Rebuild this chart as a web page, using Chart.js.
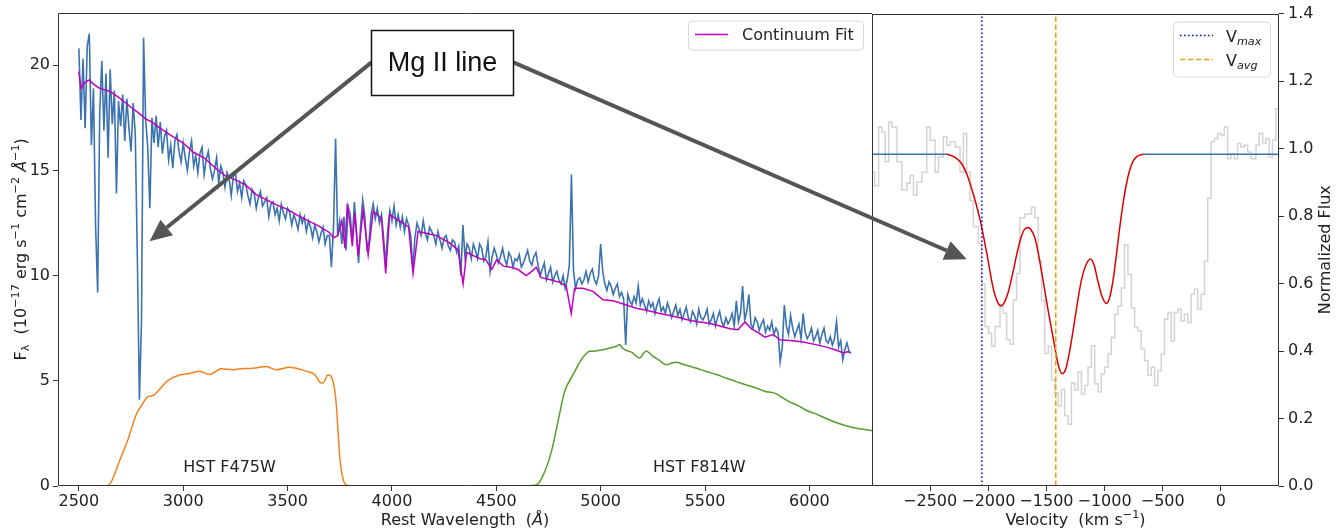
<!DOCTYPE html>
<html>
<head>
<meta charset="utf-8">
<script src="https://cdn.jsdelivr.net/npm/chart.js@4.4.0/dist/chart.umd.min.js"></script>
<style>
  html, body { margin: 0; padding: 0; background: #fff; }
  #wrap { position: relative; width: 1340px; height: 529px; }
  #cSpec { position: absolute; left: 0; top: 0; }
  #cVel { position: absolute; left: 872px; top: 0; }
  #cOver { position: absolute; left: 0; top: 0; pointer-events: none; }
</style>
</head>
<body>
<div id="wrap">
  <canvas id="cSpec" width="872" height="529"></canvas>
  <canvas id="cVel" width="468" height="529"></canvas>
  <canvas id="cOver" width="1340" height="529"></canvas>
</div>
<script>
// ---- left panel: spectrum (flux in 1e-17 erg/s/cm2/A), sampled every 10 A from 2500 A
const specStart = 2500;
const specStep = 10;
const specFlux = [
  20.8, 17.4, 20.3, 17.0, 20.9, 21.5, 16.2, 18.9, 12.4, 9.2,
  17.8, 20.2, 16.9, 19.6, 15.6, 19.8, 17.2, 18.8, 13.9, 18.3,
  17.1, 18.6, 16.4, 18.4, 17.0, 15.9, 18.2, 16.8, 11.0, 4.1,
  7.8, 21.3, 17.4, 16.1, 13.2, 17.5, 16.3, 17.6, 16.1, 17.3,
  15.8, 16.6, 16.9, 15.5, 16.2, 15.1, 16.4, 16.7, 15.9, 15.4,
  16.3, 15.6, 15.0, 15.9, 16.4, 15.2, 15.7, 14.9, 15.8, 16.1,
  14.8, 15.5, 15.9, 15.1, 14.6, 15.0, 15.6, 14.4, 15.2, 14.9,
  14.2, 14.9, 14.6, 13.8, 14.7, 14.9, 14.0, 14.4, 13.7, 14.5,
  14.3, 13.8, 13.4, 14.1, 13.9, 13.2, 13.7, 14.0, 13.3, 13.5,
  13.7, 12.8, 13.4, 13.5, 12.9, 13.2, 12.6, 13.4, 13.0, 12.7,
  13.2, 13.0, 12.4, 12.9, 12.6, 12.2, 12.9, 12.5, 12.8, 12.1,
  12.6, 12.3, 11.8, 12.4, 12.1, 11.6, 12.0, 12.3, 11.5, 11.9,
  11.9, 10.4, 12.3, 16.5, 11.9, 12.6, 11.5, 12.8, 11.2, 13.3,
  12.9, 11.6, 13.5, 12.1, 10.6, 12.4, 13.6, 12.8, 11.3, 11.6,
  12.9, 13.4, 12.7, 13.2, 12.5, 12.9, 11.8, 10.5, 12.2, 13.1,
  12.6, 13.3, 12.4, 12.9, 12.3, 12.8, 12.1, 12.7, 12.4, 11.9,
  10.3, 11.8, 12.5, 12.2, 11.9, 12.6, 12.0, 11.7, 12.3, 12.1,
  11.9, 11.5, 12.1, 11.7, 11.3, 11.8, 11.9, 11.4, 11.2, 11.7,
  11.6, 11.1, 11.4, 10.0, 12.4, 10.9, 11.5, 11.3, 10.8, 11.5,
  11.2, 10.8, 11.5, 11.3, 10.7, 10.9, 11.6, 10.2, 10.9, 11.3,
  11.0, 10.6, 10.9, 11.3, 10.8, 10.5, 11.1, 10.9, 10.4, 10.8,
  10.7, 11.0, 10.4, 10.6, 10.9, 11.2, 10.7, 10.5, 10.9, 11.1,
  10.5, 10.0, 10.3, 10.6, 9.8, 10.1, 10.4, 9.7, 10.0, 10.2,
  9.8, 9.6, 10.0, 9.4, 9.8, 10.5, 14.8, 10.2, 9.4, 9.8,
  9.9, 9.6, 9.8, 10.2, 9.7, 10.1, 10.3, 9.8, 9.6, 10.0,
  11.5, 10.2, 9.6, 9.3, 9.7, 9.5, 9.1, 9.4, 9.6, 9.0,
  9.2, 8.9, 6.7, 9.1, 8.8, 8.6, 9.0, 8.7, 9.5, 8.6,
  8.9, 8.6, 8.3, 8.8, 8.5, 8.7, 8.2, 8.6, 8.9, 8.3,
  8.5, 8.2, 8.7, 8.4, 8.0, 8.3, 8.6, 8.1, 8.4, 7.9,
  8.2, 8.5, 8.0, 7.8, 8.3, 8.1, 7.7, 8.4, 8.0, 7.9,
  8.1, 8.4, 7.7, 7.9, 8.2, 7.6, 8.0, 8.3, 7.8, 7.6,
  8.0, 7.7, 7.9, 8.2, 7.6, 8.8, 7.8, 8.2, 9.5, 7.9,
  8.3, 9.1, 7.7, 7.5, 8.0, 7.8, 7.4, 7.7, 7.9, 7.3,
  7.6, 7.4, 7.8, 7.2, 7.5, 7.3, 5.9, 6.6, 8.6, 7.6,
  7.2, 8.1, 7.5, 7.1, 7.4, 7.7, 7.0, 8.2, 7.3, 7.0,
  7.2, 7.5, 6.9, 7.1, 7.4, 6.8, 7.2, 7.5, 6.9, 6.8,
  7.1, 6.7, 7.0, 7.8, 6.6, 6.9, 6.0, 6.5, 6.8, 6.4,
  6.3
];

// continuum fit
const contLambda = [2500, 2510, 2530, 2550, 2570, 2600, 2650, 2700, 2750, 2790, 2820, 2850, 2890, 2950, 3000,
  3050, 3100, 3150, 3200, 3250, 3300, 3350, 3400, 3450, 3500, 3550, 3600, 3650, 3700, 3720, 3740, 3760,
  3775, 3786, 3800, 3810, 3822, 3838, 3862, 3886, 3910, 3930, 3950, 3970, 3989, 4020, 4053, 4080, 4101,
  4125, 4170, 4213, 4250, 4277, 4317, 4341, 4358, 4390, 4422, 4450, 4478, 4502, 4533, 4570, 4603, 4643,
  4670, 4691, 4715, 4760, 4803, 4835, 4859, 4875, 4915, 4963, 5011, 5059, 5123, 5170, 5219, 5283, 5332,
  5380, 5428, 5476, 5524, 5580, 5620, 5658, 5691, 5723, 5760, 5787, 5827, 5859, 5920, 5971, 6030, 6083,
  6130, 6163, 6180, 6195];
const contFlux = [19.7, 18.9, 19.2, 19.3, 19.1, 18.9, 18.75, 18.4, 18.0, 17.7, 17.45, 17.3, 17.0, 16.6, 16.3,
  15.85, 15.6, 15.15, 14.75, 14.55, 14.3, 13.85, 13.6, 13.35, 13.15, 12.85, 12.6, 12.35, 12.05, 11.8, 11.9, 12.6,
  11.3, 13.4, 12.4, 11.4, 13.0, 10.95, 13.1, 11.0, 13.05, 12.9, 12.7, 10.1, 12.9, 12.7, 12.5, 12.3, 10.1,
  12.1, 12.0, 11.9, 11.7, 11.55, 11.2, 9.6, 11.1, 10.95, 10.8, 10.75, 10.3, 10.75, 10.45, 10.4, 10.3, 10.0,
  10.2, 10.4, 9.9, 9.8, 9.68, 9.5, 8.2, 9.4, 9.4, 9.25, 8.85, 8.8, 8.6, 8.45, 8.35, 8.2, 8.1,
  8.0, 7.87, 7.8, 7.72, 7.58, 7.47, 7.43, 7.8, 7.47, 7.25, 7.07, 7.2, 6.95, 6.9, 6.84, 6.72, 6.6,
  6.45, 6.32, 6.38, 6.36];

// filter throughput curves (scaled)
const f475Lambda = [2550, 2628, 2655, 2695, 2735, 2775, 2799, 2831, 2855, 2887, 2919, 2950, 2983, 3030, 3078,
  3126, 3182, 3238, 3290, 3334, 3398, 3446, 3510, 3560, 3590, 3630, 3653, 3670, 3693, 3717, 3733, 3749,
  3765, 3789, 3820, 4000];
const f475Val = [0, 0, 0.2, 1.2, 2.2, 3.4, 3.8, 4.25, 4.3, 4.6, 4.95, 5.15, 5.28, 5.35, 5.45,
  5.3, 5.57, 5.53, 5.58, 5.6, 5.68, 5.53, 5.64, 5.55, 5.45, 5.3, 4.95, 4.9, 5.28, 5.0, 3.9, 1.5,
  0.35, 0.02, 0, 0];
const f814Lambda = [4596, 4692, 4723, 4763, 4795, 4827, 4867, 4907, 4947, 4980, 5011, 5040, 5075, 5091, 5105,
  5123, 5150, 5187, 5205, 5219, 5235, 5251, 5280, 5315, 5340, 5363, 5390, 5411, 5460, 5507, 5555, 5603,
  5650, 5698, 5746, 5794, 5820, 5842, 5870, 5905, 5945, 5985, 6025, 6065, 6105, 6145, 6185, 6225, 6265, 6300];
const f814Val = [0, 0.05, 0.48, 1.6, 3.04, 4.48, 5.28, 6.0, 6.4, 6.42, 6.48, 6.55, 6.64, 6.72, 6.55,
  6.45, 6.35, 6.08, 6.3, 6.42, 6.3, 6.16, 5.98, 5.76, 5.85, 5.88, 5.8, 5.74, 5.6, 5.44, 5.3, 5.12,
  4.96, 4.8, 4.66, 4.48, 4.45, 4.38, 4.2, 4.0, 3.82, 3.6, 3.45, 3.28, 3.1, 2.96, 2.84, 2.75, 2.68, 2.64];

const lamTicks = [2500, 3000, 3500, 4000, 4500, 5000, 5500, 6000];
const fluxTicks = [0, 5, 10, 15, 20];

// ---- right panel: Mg II velocity profile
const grayVel = [-3000, -2977, -2943, -2915, -2886, -2857, -2829, -2786, -2743, -2700, -2672, -2643, -2614,
  -2571, -2529, -2500, -2457, -2428, -2386, -2357, -2328, -2286, -2243, -2214, -2186, -2157, -2128, -2085,
  -2057, -2028, -1999, -1971, -1942, -1899, -1871, -1842, -1814, -1785, -1757, -1728, -1685, -1628, -1599,
  -1571, -1542, -1514, -1485, -1456, -1428, -1399, -1371, -1342, -1313, -1285, -1256, -1228, -1199, -1170,
  -1142, -1113, -1085, -1056, -1028, -999, -970, -942, -913, -885, -856, -828, -799, -770, -742, -713,
  -685, -656, -627, -599, -570, -542, -513, -485, -456, -427, -399, -370, -342, -313, -284, -256, -227,
  -198, -170, -141, -113, -84, -55, -27, 2, 30, 59, 87, 116, 144, 173, 202, 230, 259, 302, 330, 359,
  387, 416, 444, 473, 500];
const grayFlux = [0.93, 0.89, 1.064, 1.049, 0.961, 1.079, 1.064, 0.961, 0.877, 0.897, 0.92, 0.862, 0.90,
  0.93, 1.064, 1.025, 0.93, 0.975, 1.035, 1.01, 1.02, 1.005, 0.93, 1.045, 0.93, 0.846, 0.768, 0.718,
  0.60, 0.473, 0.453, 0.414, 0.473, 0.531, 0.512, 0.434, 0.42, 0.551, 0.63, 0.795, 0.806, 0.826, 0.795,
  0.668, 0.55, 0.393, 0.414, 0.315, 0.276, 0.237, 0.286, 0.208, 0.183, 0.305, 0.284, 0.337, 0.273, 0.298,
  0.352, 0.416, 0.303, 0.279, 0.332, 0.352, 0.391, 0.44, 0.509, 0.533, 0.587, 0.715, 0.627, 0.528, 0.47, 0.46,
  0.406, 0.372, 0.328, 0.352, 0.298, 0.342, 0.391, 0.494, 0.514, 0.43, 0.514, 0.524, 0.489, 0.509, 0.484,
  0.568, 0.583, 0.524, 0.568, 0.666, 0.853, 1.02, 1.03, 1.045, 1.04, 1.064, 0.97, 0.985, 0.97, 1.015,
  1.005, 1.01, 0.99, 0.97, 1.01, 1.045, 1.015, 1.03, 0.975, 1.025, 1.118, 1.118];

const fitVel = [-2355, -2290, -2228, -2180, -2142, -2100, -2071, -2013, -1957, -1920, -1891, -1860, -1828,
  -1790, -1756, -1720, -1690, -1656, -1625, -1599, -1570, -1542, -1485, -1427, -1395, -1365, -1335, -1300,
  -1271, -1235, -1199, -1160, -1121, -1090, -1056, -1020, -984, -955, -927, -900, -870, -840, -812, -785,
  -756, -720, -670];
const fitFlux = [0.983, 0.975, 0.955, 0.92, 0.88, 0.83, 0.79, 0.69, 0.585, 0.545, 0.534, 0.545, 0.575,
  0.63, 0.685, 0.735, 0.76, 0.766, 0.755, 0.735, 0.69, 0.635, 0.52, 0.41, 0.355, 0.333, 0.345, 0.40,
  0.46, 0.54, 0.61, 0.655, 0.673, 0.655, 0.605, 0.56, 0.541, 0.56, 0.61, 0.68, 0.765, 0.84, 0.895, 0.935,
  0.962, 0.977, 0.983];

const contLevel = 0.983;
const flatLeftVel = [-3000, -2355];
const flatRightVel = [-670, 500];
const vMax = -2055;
const vAvg = -1420;

const velTicks = [-2500, -2000, -1500, -1000, -500, 0];
const normTicks = [0, 0.2, 0.4, 0.6, 0.8, 1.0, 1.2, 1.4];

// ---- helpers
const FONT = '"DejaVu Sans", sans-serif';
const AXIS = '#333';
const pairs = (xs, ys) => xs.map((x, i) => ({ x: x, y: ys[i] }));
const minus = v => (v < 0 ? '\u2212' + Math.abs(v) : String(v));

Chart.defaults.font.family = FONT;
Chart.defaults.font.size = 16;
Chart.defaults.color = '#222';
Chart.defaults.animation = false;

const frameSpec = {
  id: 'frameSpec',
  afterDatasetsDraw(chart) {
    const a = chart.chartArea, c = chart.ctx;
    const l = Math.round(a.left) + 0.5, t = Math.round(a.top) + 0.5;
    const b = Math.round(a.bottom) - 0.5, r = Math.round(a.right);
    c.save();
    c.strokeStyle = AXIS;
    c.lineWidth = 1;
    c.beginPath();
    c.moveTo(r, t); c.lineTo(l, t); c.lineTo(l, b); c.lineTo(r, b);
    c.stroke();
    c.restore();
  }
};
const frameVel = {
  id: 'frameVel',
  afterDatasetsDraw(chart) {
    const a = chart.chartArea, c = chart.ctx;
    c.save();
    c.strokeStyle = AXIS;
    c.lineWidth = 1;
    c.strokeRect(Math.round(a.left) + 0.5, Math.round(a.top) + 0.5,
      Math.round(a.right - a.left) - 1, Math.round(a.bottom - a.top) - 1);
    c.restore();
  }
};

function tickGrid() {
  return { drawOnChartArea: false, drawTicks: true, tickLength: 5, color: AXIS, lineWidth: 1 };
}

// ---- left chart
const specPts = specFlux.map((f, i) => ({ x: specStart + i * specStep, y: f }));

const specChart = new Chart(document.getElementById('cSpec'), {
  type: 'line',
  data: {
    datasets: [
      { label: 'Continuum Fit', data: pairs(contLambda, contFlux), borderColor: '#bf00bf', borderWidth: 1.5,
        pointRadius: 0, tension: 0, order: 1 },
      { label: 'spectrum', data: specPts, borderColor: '#3b72b0', borderWidth: 1.6,
        pointRadius: 0, tension: 0, order: 3 },
      { label: 'F475W', data: pairs(f475Lambda, f475Val), borderColor: '#f5821f', borderWidth: 1.5,
        pointRadius: 0, cubicInterpolationMode: 'monotone', order: 2 },
      { label: 'F814W', data: pairs(f814Lambda, f814Val), borderColor: '#559e2e', borderWidth: 1.5,
        pointRadius: 0, cubicInterpolationMode: 'monotone', order: 2 }
    ]
  },
  options: {
    responsive: false,
    devicePixelRatio: 1,
    layout: { padding: { top: 11, right: 0, bottom: 0, left: 0 } },
    plugins: { legend: { display: false }, tooltip: { enabled: false } },
    scales: {
      x: {
        type: 'linear', min: 2400, max: 6300,
        afterBuildTicks: s => { s.ticks = lamTicks.map(v => ({ value: v })); },
        afterFit: s => { s.height = 43; },
        grid: tickGrid(), border: { display: false },
        ticks: { padding: 1, maxRotation: 0, autoSkip: false, callback: v => String(v) }
      },
      y: {
        type: 'linear', min: 0, max: 22.5,
        afterBuildTicks: s => { s.ticks = fluxTicks.map(v => ({ value: v })); },
        afterFit: s => { s.width = 58; },
        grid: tickGrid(), border: { display: false },
        ticks: { padding: 3, callback: v => String(v) }
      }
    }
  },
  plugins: [frameSpec]
});

// ---- right chart
const velChart = new Chart(document.getElementById('cVel'), {
  type: 'line',
  data: {
    datasets: [
      { label: 'Vmax', data: [{ x: vMax, y: 0 }, { x: vMax, y: 1.4 }], borderColor: '#0000ff', borderWidth: 1.5,
        borderDash: [1.5, 2.5], pointRadius: 0, order: 0 },
      { label: 'Vavg', data: [{ x: vAvg, y: 0 }, { x: vAvg, y: 1.4 }], borderColor: '#eba01a', borderWidth: 1.6,
        borderDash: [5.5, 2.5], pointRadius: 0, order: 0 },
      { label: 'fit', data: pairs(fitVel, fitFlux), borderColor: '#dd0000', borderWidth: 1.5,
        pointRadius: 0, cubicInterpolationMode: 'monotone', order: 1 },
      { label: 'contL', data: flatLeftVel.map(v => ({ x: v, y: contLevel })), borderColor: '#3b72b0',
        borderWidth: 1.5, pointRadius: 0, order: 1 },
      { label: 'contR', data: flatRightVel.map(v => ({ x: v, y: contLevel })), borderColor: '#3b72b0',
        borderWidth: 1.5, pointRadius: 0, order: 1 },
      { label: 'data', data: pairs(grayVel, grayFlux), borderColor: '#d3d3d3', borderWidth: 1.5,
        pointRadius: 0, stepped: true, order: 4 }
    ]
  },
  options: {
    responsive: false,
    devicePixelRatio: 1,
    layout: { padding: { top: 11, right: 0, bottom: 0, left: 0 } },
    plugins: { legend: { display: false }, tooltip: { enabled: false } },
    scales: {
      x: {
        type: 'linear', min: -3000, max: 500,
        afterBuildTicks: s => { s.ticks = velTicks.map(v => ({ value: v })); },
        afterFit: s => { s.height = 43; },
        grid: tickGrid(), border: { display: false },
        ticks: { padding: 1, maxRotation: 0, autoSkip: false, callback: v => minus(v) }
      },
      y: {
        type: 'linear', position: 'right', min: 0, max: 1.4,
        afterBuildTicks: s => { s.ticks = normTicks.map(v => ({ value: v })); },
        afterFit: s => { s.width = 61; },
        grid: tickGrid(), border: { display: false },
        ticks: { padding: 4, callback: v => Number(v).toFixed(1) }
      }
    }
  },
  plugins: [frameVel]
});

// ---- overlay: titles with sub/superscripts, legends, Mg II annotation
function partFont(p, size) {
  const small = p.k === 'sup' || p.k === 'sub' || p.k === 'itsub';
  const it = p.k === 'it' || p.k === 'itsub';
  return (it ? 'italic ' : '') + (small ? size * 0.7 : size) + 'px ' + FONT;
}
function drawRich(ctx, parts, x, y, size, align) {
  ctx.save();
  ctx.textBaseline = 'alphabetic';
  ctx.textAlign = 'left';
  ctx.fillStyle = '#222';
  let w = 0;
  parts.forEach(p => { ctx.font = partFont(p, size); w += ctx.measureText(p.t).width; });
  let cx = align === 'center' ? x - w / 2 : x;
  parts.forEach(p => {
    ctx.font = partFont(p, size);
    const dy = p.k === 'sup' ? -size * 0.42 : (p.k === 'sub' || p.k === 'itsub') ? size * 0.24 : 0;
    ctx.fillText(p.t, cx, y + dy);
    cx += ctx.measureText(p.t).width;
  });
  ctx.restore();
}
function roundBox(ctx, x, y, w, h, r) {
  ctx.beginPath();
  ctx.moveTo(x + r, y);
  ctx.arcTo(x + w, y, x + w, y + h, r);
  ctx.arcTo(x + w, y + h, x, y + h, r);
  ctx.arcTo(x, y + h, x, y, r);
  ctx.arcTo(x, y, x + w, y, r);
  ctx.closePath();
  ctx.fillStyle = 'rgba(255,255,255,0.85)';
  ctx.fill();
  ctx.strokeStyle = '#d9d9d9';
  ctx.lineWidth = 1;
  ctx.stroke();
}
function arrow(ctx, x0, y0, x1, y1) {
  const ang = Math.atan2(y1 - y0, x1 - x0), hl = 22, hw = 10;
  const bx = x1 - hl * Math.cos(ang), by = y1 - hl * Math.sin(ang);
  ctx.strokeStyle = '#555';
  ctx.lineWidth = 4;
  ctx.beginPath(); ctx.moveTo(x0, y0); ctx.lineTo(bx, by); ctx.stroke();
  ctx.fillStyle = '#555';
  ctx.beginPath();
  ctx.moveTo(x1, y1);
  ctx.lineTo(bx + hw * Math.sin(ang), by - hw * Math.cos(ang));
  ctx.lineTo(bx - hw * Math.sin(ang), by + hw * Math.cos(ang));
  ctx.closePath();
  ctx.fill();
}

// annotation anchors in data units (wavelength/flux and velocity/normalized flux)
const mgBox = { left: 3902, right: 4582, top: 21.67, bottom: 18.6 };
const mgArrowTipSpec = [2839, 11.63];
const mgArrowTipVel = [-2185, 0.672];
const filterLabels = [['HST F475W', 3222], ['HST F814W', 5473]];

function drawOverlay() {
  const ctx = document.getElementById('cOver').getContext('2d');
  const velLeft = 872;
  const sx = v => specChart.scales.x.getPixelForValue(v);
  const sy = v => specChart.scales.y.getPixelForValue(v);
  const vx = v => velLeft + velChart.scales.x.getPixelForValue(v);
  const vy = v => velChart.scales.y.getPixelForValue(v);
  const A = specChart.chartArea, B = velChart.chartArea;

  // filter labels
  ctx.font = '16px ' + FONT;
  ctx.fillStyle = '#222';
  ctx.textAlign = 'center';
  ctx.textBaseline = 'alphabetic';
  filterLabels.forEach(([t, l]) => ctx.fillText(t, sx(l), A.bottom - 14));

  // axis titles
  drawRich(ctx, [{ t: 'Rest Wavelength  (' }, { t: '\u00c5', k: 'it' }, { t: ')' }],
    (A.left + A.right) / 2, 525, 16, 'center');
  drawRich(ctx, [{ t: 'Velocity  (km s' }, { t: '\u22121', k: 'sup' }, { t: ')' }],
    velLeft + (B.left + B.right) / 2, 525, 16, 'center');
  ctx.save();
  ctx.translate(25.5, (A.top + A.bottom) / 2);
  ctx.rotate(-Math.PI / 2);
  drawRich(ctx, [{ t: 'F' }, { t: '\u03bb', k: 'sub' }, { t: '  (10' }, { t: '\u221217', k: 'sup' },
    { t: ' erg s' }, { t: '\u22121', k: 'sup' }, { t: ' cm' }, { t: '\u22122', k: 'sup' }, { t: ' ' },
    { t: '\u00c5', k: 'it' }, { t: '\u22121', k: 'sup' }, { t: ')' }], 0, 0, 16, 'center');
  ctx.restore();
  ctx.save();
  ctx.translate(1330, (B.top + B.bottom) / 2);
  ctx.rotate(-Math.PI / 2);
  drawRich(ctx, [{ t: 'Normalized Flux' }], 0, 0, 16, 'center');
  ctx.restore();

  // legend: continuum fit
  const lg1 = { x: A.right - 184, y: A.top + 8, w: 175, h: 29 };
  roundBox(ctx, lg1.x + 0.5, lg1.y + 0.5, lg1.w, lg1.h, 4);
  ctx.strokeStyle = '#bf00bf';
  ctx.lineWidth = 1.5;
  ctx.beginPath(); ctx.moveTo(lg1.x + 7, lg1.y + 14); ctx.lineTo(lg1.x + 40, lg1.y + 14); ctx.stroke();
  ctx.font = '16px ' + FONT;
  ctx.fillStyle = '#222';
  ctx.textAlign = 'left';
  ctx.textBaseline = 'middle';
  ctx.fillText('Continuum Fit', lg1.x + 54, lg1.y + 15);

  // legend: velocities
  const lg2 = { x: velLeft + B.right - 106, y: B.top + 8, w: 97, h: 55 };
  roundBox(ctx, lg2.x + 0.5, lg2.y + 0.5, lg2.w, lg2.h, 4);
  ctx.lineWidth = 1.5;
  ctx.strokeStyle = '#0000ff';
  ctx.setLineDash([1.5, 2.5]);
  ctx.beginPath(); ctx.moveTo(lg2.x + 7, lg2.y + 14); ctx.lineTo(lg2.x + 40, lg2.y + 14); ctx.stroke();
  ctx.strokeStyle = '#eba01a';
  ctx.setLineDash([5.5, 2.5]);
  ctx.beginPath(); ctx.moveTo(lg2.x + 7, lg2.y + 38); ctx.lineTo(lg2.x + 40, lg2.y + 38); ctx.stroke();
  ctx.setLineDash([]);
  drawRich(ctx, [{ t: 'V' }, { t: 'max', k: 'itsub' }], lg2.x + 53, lg2.y + 20, 16, 'left');
  drawRich(ctx, [{ t: 'V' }, { t: 'avg', k: 'itsub' }], lg2.x + 53, lg2.y + 44, 16, 'left');

  // Mg II annotation
  const bl = sx(mgBox.left), br = sx(mgBox.right), bt = sy(mgBox.top), bb = sy(mgBox.bottom);
  const bm = (bt + bb) / 2;
  arrow(ctx, bl, bm, sx(mgArrowTipSpec[0]), sy(mgArrowTipSpec[1]));
  arrow(ctx, br, bm, vx(mgArrowTipVel[0]), vy(mgArrowTipVel[1]));
  ctx.fillStyle = '#fff';
  ctx.fillRect(bl, bt, br - bl, bb - bt);
  ctx.strokeStyle = '#111';
  ctx.lineWidth = 1.5;
  ctx.strokeRect(Math.round(bl) + 0.5, Math.round(bt) + 0.5, Math.round(br - bl), Math.round(bb - bt));
  ctx.font = '27px "Liberation Sans", Arial, sans-serif';
  ctx.fillStyle = '#111';
  ctx.textAlign = 'center';
  ctx.textBaseline = 'middle';
  ctx.fillText('Mg II line', (bl + br) / 2, bm + 1);
}

drawOverlay();
</script>
</body>
</html>
